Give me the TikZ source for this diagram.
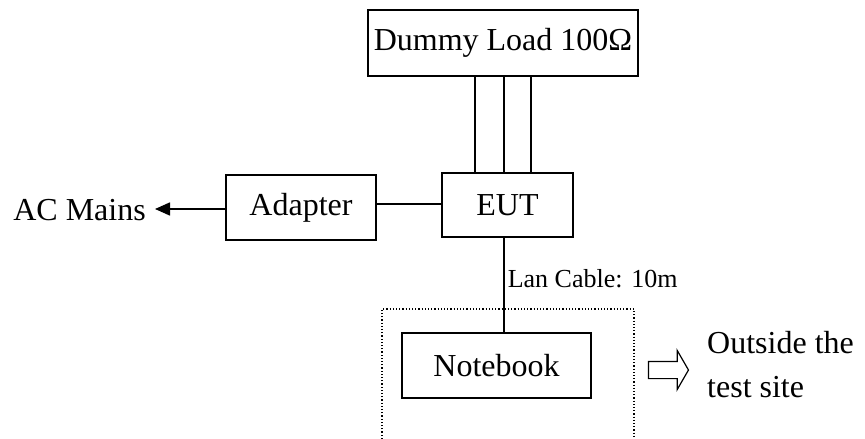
\documentclass[tikz,border=0pt]{standalone}
\usepackage{fontspec}
\setmainfont{Liberation Serif}
\usetikzlibrary{arrows.meta,shapes.arrows}

\tikzset{
  unit/.style={draw, line width=1.6pt, inner sep=0pt, font=\fontsize{32}{44}\selectfont},
  wire/.style={line width=1.6pt},
}

\begin{document}
\begin{tikzpicture}[x=1pt, y=1pt]
      \useasboundingbox (0,0) rectangle (865,-439);

      %boites
      \node[unit, minimum width=270pt, minimum height=66pt] (load) at (503,-43) {Dummy Load 100Ω};
      \node[unit, minimum width=131pt, minimum height=64pt] (eut) at (507.5,-205) {EUT};
      \node[unit, minimum width=150pt, minimum height=65pt] (adapter) at (301,-207.5) {Adapter};
      \node[unit, minimum width=189pt, minimum height=65pt] (notebook) at (496.5,-365.5) {Notebook};
      \node[font=\fontsize{32}{44}\selectfont, anchor=east, inner sep=0pt] (mains) at (146,-210) {AC Mains};

      %liaisons
      \draw[wire] ([xshift=-28pt]load.south) -- ([xshift=-32.5pt]eut.north);
      \draw[wire] ([xshift=1pt]load.south) -- ([xshift=-3.5pt]eut.north);
      \draw[wire] ([xshift=28pt]load.south) -- ([xshift=23.5pt]eut.north);
      \draw[wire] (adapter.east |- 0,-204) -- (eut.west |- 0,-204);
      \draw[wire, -{Triangle[length=15pt, width=13pt]}] (adapter.west |- 0,-209) -- ([xshift=9pt]mains.east |- 0,-209);
      \draw[wire] (eut.south -| 504,0) -- node[pos=0.43, anchor=west, inner sep=3pt, font=\fontsize{26}{30}\selectfont] {Lan Cable: 10m} (notebook.north -| 504,0);

      %zone hors site
      \draw[dotted, line width=1.2pt] (382,-439) -- (382,-309) -- (634,-309) -- (634,-439);
      \node[draw, line width=1.2pt, single arrow, inner xsep=0pt, inner ysep=8pt,
            minimum height=40pt, single arrow head extend=11pt, single arrow tip angle=120,
            single arrow head indent=0pt] (exitarrow) at (666,-370) {};
      \node[font=\fontsize{32}{44}\selectfont, align=left, anchor=north west, inner sep=0pt] (outside) at (707,-331) {Outside the\\test site};
    \end{tikzpicture}
\end{document}
